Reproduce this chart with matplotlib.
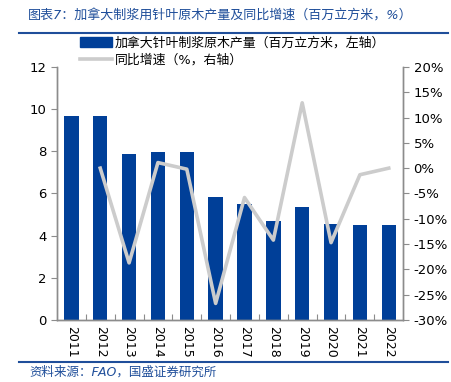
import matplotlib.pyplot as plt
from matplotlib.lines import Line2D
from matplotlib.patches import Patch

plt.rcParams["font.family"] = ["DejaVu Sans", "Noto Sans CJK SC"]

BLUE = "#003F98"
GRAY_LINE = "#CCCCCC"
AXIS = "#8C8C8C"
TITLE_BLUE = "#1F4E9A"

years = ["2011", "2012", "2013", "2014", "2015", "2016",
         "2017", "2018", "2019", "2020", "2021", "2022"]
output = [9.65, 9.65, 7.86, 7.95, 7.95, 5.82, 5.50, 4.71, 5.35, 4.55, 4.49, 4.49]
growth = [None, 0.0, -18.7, 1.1, -0.2, -26.7, -5.8, -14.2, 12.9, -14.7, -1.3, 0.0]

fig = plt.figure(figsize=(4.52, 3.82), dpi=100)
fig.patch.set_facecolor("white")
ax = fig.add_axes([0.126, 0.162, 0.766, 0.663])

x = list(range(len(years)))
ax.bar(x, output, width=0.5, color=BLUE, zorder=2)
ax.set_xlim(-0.5, len(years) - 0.5)
ax.set_ylim(0, 12)
ax.set_yticks(range(0, 13, 2))
ax.set_xticks([i - 0.5 for i in range(1, len(years))], minor=False)
ax.set_xticklabels([])
ax.tick_params(axis="x", direction="in", length=4, color=AXIS)
for i, yr in enumerate(years):
    ax.text(i, -0.3, yr, rotation=270, ha="center", va="top", fontsize=9,
            transform=ax.transData)
ax.tick_params(axis="y", direction="out", length=4, color=AXIS, labelsize=9.5)

ax2 = ax.twinx()
gx = [i for i, g in zip(x, growth) if g is not None]
gy = [g for g in growth if g is not None]
ax2.plot(gx, gy, color=GRAY_LINE, linewidth=2.6, zorder=3)
ax2.set_ylim(-30, 20)
ax2.set_yticks(range(-30, 21, 5))
ax2.set_yticklabels([f"{v}%" for v in range(-30, 21, 5)])
ax2.tick_params(axis="y", direction="out", length=4, color=AXIS, labelsize=9.5)

for a in (ax, ax2):
    a.spines["top"].set_visible(False)
    for s in ("left", "right", "bottom"):
        a.spines[s].set_color(AXIS)
        a.spines[s].set_linewidth(1.0)

handles = [
    Patch(facecolor=BLUE, edgecolor=BLUE),
    Line2D([0], [0], color=GRAY_LINE, linewidth=2.6),
]
labels = ["加拿大针叶制浆原木产量（百万立方米，左轴）", "同比增速（%，右轴）"]
fig.legend(handles, labels, loc="upper left", bbox_to_anchor=(0.165, 0.918),
           frameon=False, fontsize=9.3, handlelength=2.5, handleheight=0.8,
           handletextpad=0.2, labelspacing=0.3, borderaxespad=0)

fig.text(0.062, 0.958, "图表7：加拿大制浆用针叶原木产量及同比增速（百万立方米，%）",
         fontsize=9.4, color=TITLE_BLUE, style="italic", ha="left", va="center")
fig.add_artist(Line2D([0.042, 0.991], [0.914, 0.914], color=TITLE_BLUE,
                      linewidth=1.5, transform=fig.transFigure))
fig.add_artist(Line2D([0.042, 0.991], [0.053, 0.053], color=TITLE_BLUE,
                      linewidth=1.5, transform=fig.transFigure))
fig.text(0.066, 0.027, "资料来源：FAO，国盛证券研究所", fontsize=9,
         color=TITLE_BLUE, style="italic", ha="left", va="center")

fig.savefig("out.png", dpi=100)
